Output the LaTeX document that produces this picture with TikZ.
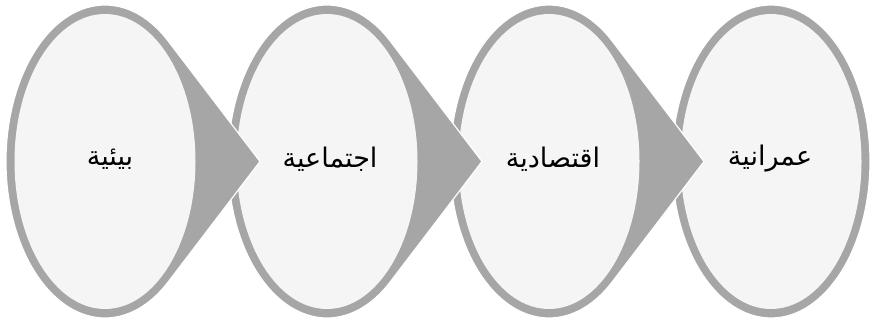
\documentclass[tikz,border=0pt]{standalone}
\usepackage{fontspec}
\newfontfamily\arabicfont[Script=Arabic]{DejaVu Sans}
\TeXXeTstate=1
\definecolor{rim}{HTML}{A6A6A6}
\definecolor{face}{HTML}{F5F5F5}
\begin{document}
\begin{tikzpicture}[x=1pt,y=1pt,
  lbl/.style={font=\arabicfont\fontsize{27}{32}\selectfont, text=black},
  outer/.style={fill=rim,draw=white,line width=1.2pt},
  inner/.style={fill=face}]
\useasboundingbox (0,0) rectangle (872,323);
% last circle (no tip)
\filldraw[outer] (771,161.5) ellipse [x radius=99,y radius=156.5];
\fill[inner] (771,161.5) ellipse [x radius=90.5,y radius=147.5];
% circles with tips, drawn right to left
\foreach \cx in {549,327,105} {
  \filldraw[outer] (\cx+63.2,41.1) -- (\cx+155,161.5) -- (\cx+63.2,281.9)
    arc[start angle=50.3,end angle=309.7,x radius=99,y radius=156.5] -- cycle;
  \fill[inner] (\cx,161.5) ellipse [x radius=90.5,y radius=147.5];
}
\node[lbl] (t1) at (110,164) {\beginR بيئية\endR};
\node[lbl] (t2) at (330,164) {\beginR اجتماعية\endR};
\node[lbl] (t3) at (553,164) {\beginR اقتصادية\endR};
\node[lbl] (t4) at (770,164) {\beginR عمرانية\endR};
\end{tikzpicture}
\end{document}
